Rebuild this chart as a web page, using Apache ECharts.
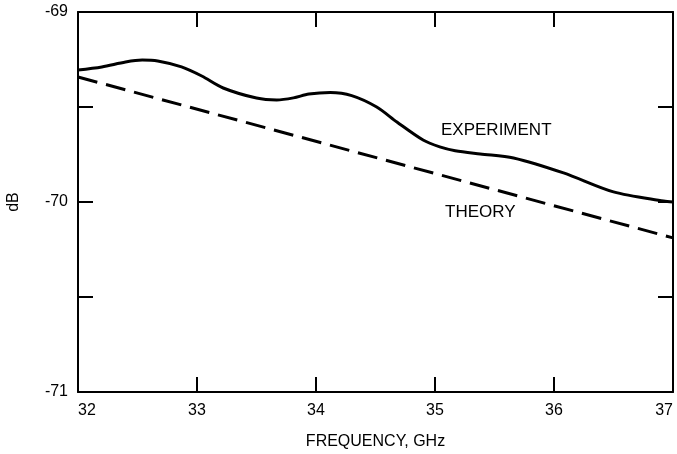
<!DOCTYPE html>
<html>
<head>
<meta charset="UTF-8">
<script src="https://cdn.jsdelivr.net/npm/echarts@6/dist/echarts.min.js"></script>
<title></title>
</head>
<body style="margin:0;background:#fff">
<div id="main" style="width:677px;height:454px;"></div>
<script>
// frequency (GHz) / level (dB)
var expFreq = [32.00, 32.20, 32.40, 32.54, 32.67, 32.87, 33.04, 33.22, 33.50, 33.67, 33.81, 33.94, 34.12, 34.30, 34.51, 34.68, 34.90, 35.04, 35.17, 35.38, 35.66, 36.08, 36.50, 36.92, 37.00];
var expDb   = [-69.305, -69.289, -69.263, -69.253, -69.258, -69.289, -69.337, -69.40, -69.453, -69.463, -69.452, -69.432, -69.424, -69.440, -69.50, -69.579, -69.674, -69.71, -69.73, -69.747, -69.768, -69.847, -69.947, -69.995, -70.0];
var theoryFreq = [32, 37];
var theoryDb   = [-69.342, -70.189];
var yTicks = [-69, -70, -71];

var font = '"Liberation Sans", Arial, sans-serif';
function pairs(xs, ys) {
	var out = [];
	for (var i = 0; i < xs.length; i++) out.push([xs[i], ys[i]]);
	return out;
}

var myChart = echarts.init(document.getElementById('main'));
myChart.setOption({
	animation: false,
	grid: { left: 78, right: 4, top: 12, bottom: 62, outerBoundsMode: 'none' },
	xAxis: [
		{
			type: 'value', min: 32, max: 37, interval: 1,
			name: 'FREQUENCY, GHz', nameLocation: 'middle', nameGap: 42,
			nameTextStyle: { color: '#000', fontSize: 16, fontFamily: font },
			axisLine: { lineStyle: { color: '#000', width: 2 } },
			axisTick: { inside: true, length: 15, lineStyle: { color: '#000', width: 2 } },
			axisLabel: { color: '#000', fontSize: 16, fontFamily: font, margin: 11, alignMinLabel: 'left', alignMaxLabel: 'right' },
			splitLine: { show: false }
		},
		{
			type: 'value', min: 32, max: 37, interval: 1, position: 'top',
			axisLine: { lineStyle: { color: '#000', width: 2 } },
			axisTick: { inside: true, length: 15, lineStyle: { color: '#000', width: 2 } },
			axisLabel: { show: false },
			splitLine: { show: false }
		}
	],
	yAxis: [
		{
			type: 'value', min: -71, max: -69, interval: 0.5,
			name: 'dB', nameLocation: 'middle', nameGap: 56, nameRotate: 90,
			nameTextStyle: { color: '#000', fontSize: 16, fontFamily: font },
			axisLine: { show: true, lineStyle: { color: '#000', width: 2 } },
			axisTick: { show: true, inside: true, length: 15, lineStyle: { color: '#000', width: 2 } },
			axisLabel: {
				color: '#000', fontSize: 16, fontFamily: font, margin: 10,
				formatter: function (v) { return yTicks.indexOf(v) >= 0 ? String(v) : ''; }
			},
			splitLine: { show: false }
		},
		{
			type: 'value', min: -71, max: -69, interval: 0.5, position: 'right',
			axisLine: { show: true, lineStyle: { color: '#000', width: 2 } },
			axisTick: { show: true, inside: true, length: 15, lineStyle: { color: '#000', width: 2 } },
			axisLabel: { show: false },
			splitLine: { show: false }
		}
	],
	series: [
		{
			name: 'EXPERIMENT', type: 'line', smooth: 0.3, showSymbol: false,
			data: pairs(expFreq, expDb),
			lineStyle: { color: '#000', width: 3 }
		},
		{
			name: 'THEORY', type: 'line', showSymbol: false,
			data: pairs(theoryFreq, theoryDb),
			lineStyle: { color: '#000', width: 3, type: [20, 9] }
		}
	],
	graphic: [
		{ type: 'text', left: 441, top: 122, style: { text: 'EXPERIMENT', fill: '#000', font: '17px ' + font } },
		{ type: 'text', left: 445, top: 204, style: { text: 'THEORY', fill: '#000', font: '17px ' + font } }
	]
});
</script>
</body>
</html>
